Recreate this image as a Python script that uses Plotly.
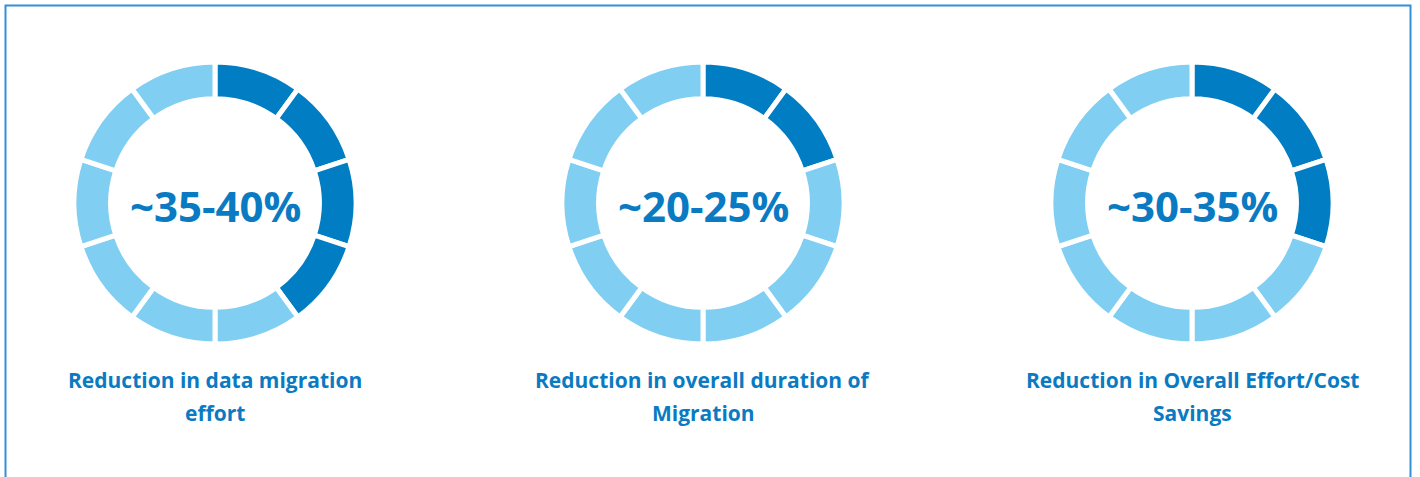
import plotly.graph_objects as go

# ---- data ----
center_texts = ["~35-40%", "~20-25%", "~30-35%"]
label_lines = [
    ["Reduction in data migration", "effort"],
    ["Reduction in overall duration of", "Migration"],
    ["Reduction in Overall Effort/Cost", "Savings"],
]
filled_segments = [4, 2, 3]
segment_values = [1, 1, 1, 1, 1, 1, 1, 1, 1, 1]

DARK = "#007dc3"
LIGHT = "#80cff3"
TEXT = "#0a7bc2"
FONT = "Open Sans"

W, H = 1420, 477
centers_px = [215, 703, 1192]
cy_px = 203
radius_px = 141

fig = go.Figure()
for i, (cx, n) in enumerate(zip(centers_px, filled_segments)):
    colors = [DARK if k < n else LIGHT for k in range(len(segment_values))]
    fig.add_trace(go.Pie(
        values=segment_values,
        hole=0.74,
        sort=False,
        direction="clockwise",
        rotation=0,
        marker=dict(colors=colors, line=dict(color="white", width=5)),
        textinfo="none",
        hoverinfo="skip",
        showlegend=False,
        domain=dict(
            x=[(cx - radius_px) / W, (cx + radius_px) / W],
            y=[1 - (cy_px + radius_px) / H, 1 - (cy_px - radius_px) / H],
        ),
    ))
    fig.add_annotation(
        x=cx / W, y=1 - (cy_px + 2) / H, xref="paper", yref="paper",
        text="<b>%s</b>" % center_texts[i], showarrow=False,
        font=dict(family=FONT, size=42, color=TEXT),
        xanchor="center", yanchor="middle",
    )
    for j, line in enumerate(label_lines[i]):
        fig.add_annotation(
            x=cx / W, y=1 - (380 + 33 * j) / H, xref="paper", yref="paper",
            text="<b>%s</b>" % line, showarrow=False,
            font=dict(family=FONT, size=21, color=TEXT),
            xanchor="center", yanchor="middle",
        )

fig.add_shape(
    type="rect", xref="paper", yref="paper",
    x0=5.5 / W, x1=1410.5 / W, y0=-0.1, y1=1 - 5.5 / H,
    line=dict(color="#3090d8", width=2), fillcolor="rgba(0,0,0,0)",
)

fig.update_layout(
    width=W, height=H,
    margin=dict(l=0, r=0, t=0, b=0),
    paper_bgcolor="white", plot_bgcolor="white",
)

fig.write_html(
    "out.html",
    config={"displayModeBar": False},
    post_script="document.body.style.margin='0';",
)
